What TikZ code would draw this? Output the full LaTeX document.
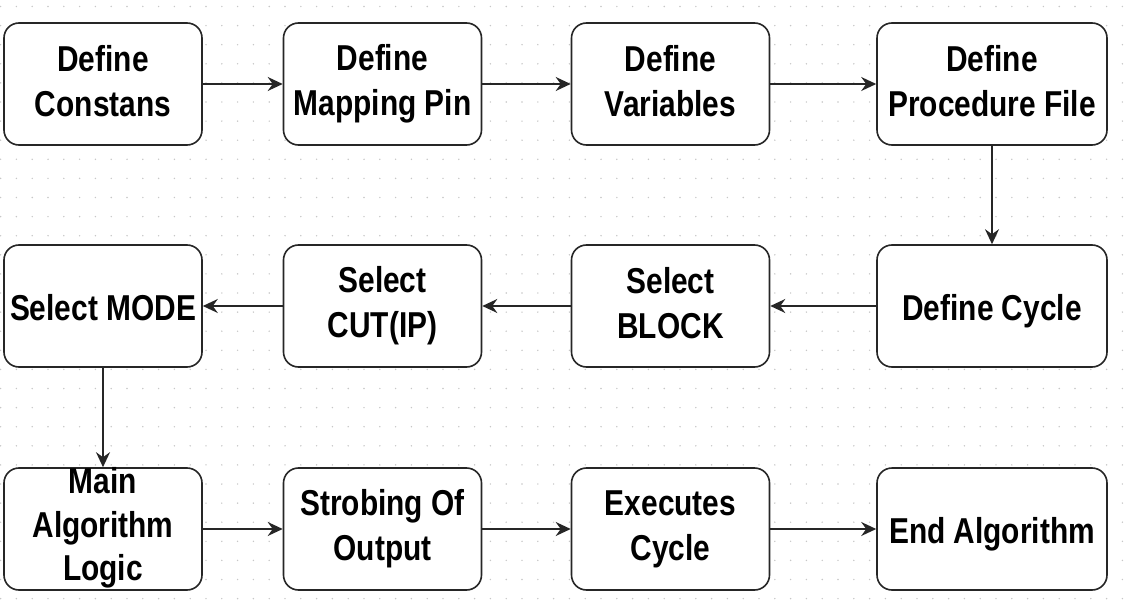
\documentclass[tikz,border=0pt]{standalone}
\usepackage{fontspec}
\setmainfont[FakeStretch=0.83]{Liberation Sans}
\usetikzlibrary{arrows.meta}
\newcommand\boxstrut{\rule[-7pt]{0pt}{43pt}}
\tikzset{
  box/.style={draw=black!85, line width=1.6pt, rounded corners=15pt, fill=white,
    align=center, inner sep=0pt, font=\fontsize{36}{45}\selectfont\bfseries,
    minimum height=122pt, execute at begin node=\boxstrut, execute at end node=\boxstrut},
  w1/.style={minimum width=198pt},
  w4/.style={minimum width=230pt},
  conn/.style={draw=black!85, line width=1.4pt, -{Stealth[length=15pt,width=14pt,inset=5pt]}},
  griddot/.style={fill=black!22}
}
\begin{document}
\begin{tikzpicture}[x=1pt,y=-1pt]
\useasboundingbox (0,0) rectangle (1125,607);
\fill[white] (0,0) rectangle (1125,607);
\foreach \i in {0,...,71} {
  \foreach \j in {0,...,31} {
    \fill[griddot] ({0.6+15.8*\i},{6.5+19.1*\j}) circle (0.8);
  }
}
% row 1
\node[box,w1] (a1) at (103,84) {Define\\Constans};
\node[box,w1] (a2) at (382.5,84) {Define\\Mapping Pin};
\node[box,w1] (a3) at (670.5,84) {Define\\Variables};
\node[box,w4] (a4) at (992,84) {Define\\Procedure File};
% row 2
\node[box,w1] (b1) at (103,306) {Select MODE};
\node[box,w1] (b2) at (382.5,306) {Select\\CUT(IP)};
\node[box,w1] (b3) at (670.5,306) {Select\\BLOCK};
\node[box,w4] (b4) at (992,306) {Define Cycle};
% row 3
\node[box,w1] (c1) at (103,529) {};
\node[align=center, font=\fontsize{36}{43.5}\selectfont\bfseries] at (103,528) {Main\\Algorithm\\Logic};
\node[box,w1] (c2) at (382.5,529) {Strobing Of\\Output};
\node[box,w1] (c3) at (670.5,529) {Executes\\Cycle};
\node[box,w4] (c4) at (992,529) {End Algorithm};
% connectors
\draw[conn] (a1) -- (a2);
\draw[conn] (a2) -- (a3);
\draw[conn] (a3) -- (a4);
\draw[conn] (a4) -- (b4);
\draw[conn] (b4) -- (b3);
\draw[conn] (b3) -- (b2);
\draw[conn] (b2) -- (b1);
\draw[conn] (b1) -- (c1);
\draw[conn] (c1) -- (c2);
\draw[conn] (c2) -- (c3);
\draw[conn] (c3) -- (c4);
\end{tikzpicture}
\end{document}
